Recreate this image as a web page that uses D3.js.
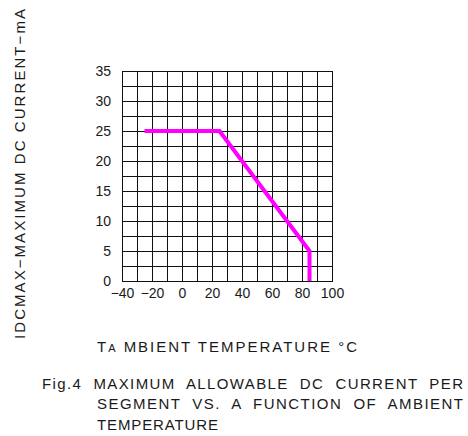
<!DOCTYPE html>
<html>
<head>
<meta charset="utf-8">
<script src="https://cdn.jsdelivr.net/npm/d3@7"></script>
<style>
body{margin:0;background:#fff;}
svg text{font-family:"Liberation Sans",Arial,sans-serif;fill:#1a1a1a;}
</style>
</head>
<body>
<div id="chart"></div>
<script>
// data
var tempC=[-25,25,85,85];
var currentMA=[25,25,5,0];
var xTickVals=[-40,-20,0,20,40,60,80,100];
var yTickVals=[0,5,10,15,20,25,30,35];
var xGrid=[-40,-30,-20,-10,0,10,20,30,40,50,60,70,80,90,100];
var yGrid=[0,2.5,5,7.5,10,12.5,15,17.5,20,22.5,25,27.5,30,32.5,35];

var W=468,H=436;
var plot={left:122,top:71,right:332,bottom:281};

var svg=d3.select("#chart").append("svg")
	.attr("width",W).attr("height",H);

var x=d3.scaleLinear().domain([-40,100]).range([plot.left,plot.right]);
var y=d3.scaleLinear().domain([0,35]).range([plot.bottom,plot.top]);

//网格
var grid=svg.append("g").attr("stroke","#111").attr("stroke-width",1).attr("shape-rendering","crispEdges");
grid.selectAll("line.v").data(xGrid).enter().append("line")
	.attr("class","v")
	.attr("x1",function(d){return Math.round(x(d))+0.5;})
	.attr("x2",function(d){return Math.round(x(d))+0.5;})
	.attr("y1",plot.top).attr("y2",plot.bottom);
grid.selectAll("line.h").data(yGrid).enter().append("line")
	.attr("class","h")
	.attr("y1",function(d){return Math.round(y(d))+0.5;})
	.attr("y2",function(d){return Math.round(y(d))+0.5;})
	.attr("x1",plot.left).attr("x2",plot.right+1);

//坐标轴刻度
var xAxis=d3.axisBottom(x).tickValues(xTickVals).tickSize(0).tickPadding(0)
	.tickFormat(function(d){return d<0?"\u2212"+Math.abs(d):d;});
var gx=svg.append("g").attr("transform","translate(0,"+(plot.bottom+7)+")").call(xAxis);
gx.select(".domain").remove();
gx.selectAll("text").attr("font-size",14).attr("fill","#1a1a1a").style("font-family","Liberation Sans,Arial,sans-serif");

var yAxis=d3.axisLeft(y).tickValues(yTickVals).tickSize(0).tickPadding(0);
var gy=svg.append("g").attr("transform","translate("+(plot.left-11)+",0)").call(yAxis);
gy.select(".domain").remove();
gy.selectAll("text").attr("font-size",14).attr("fill","#1a1a1a").style("font-family","Liberation Sans,Arial,sans-serif");

//曲线
var line=d3.line().x(function(d){return x(d[0]);}).y(function(d){return y(d[1]);});
svg.append("path")
	.datum(d3.zip(tempC,currentMA))
	.attr("d",line)
	.attr("fill","none")
	.attr("stroke","#ff00ff")
	.attr("stroke-width",4)
	.attr("stroke-linejoin","miter");

//y轴标题
svg.append("text")
	.attr("transform","translate(25,174) rotate(-90)")
	.attr("text-anchor","middle")
	.attr("font-size",15)
	.attr("textLength",330).attr("lengthAdjust","spacing")
	.text("IDCMAX\u2212MAXIMUM  DC  CURRENT\u2212mA");

//x轴标题
var xt=svg.append("text")
	.attr("x",97).attr("y",352)
	.attr("font-size",15)
	.attr("textLength",260).attr("lengthAdjust","spacing");
xt.append("tspan").text("T");
xt.append("tspan").attr("font-size",11).text("A");
xt.append("tspan").text("  MBIENT  TEMPERATURE  \u00b0C");

//图注
var caption=[
	{x:42,y:389,len:421,t:"Fig.4  MAXIMUM  ALLOWABLE  DC  CURRENT  PER"},
	{x:97,y:409,len:366,t:"SEGMENT  VS.  A  FUNCTION  OF  AMBIENT"},
	{x:97,y:430,len:121,t:"TEMPERATURE"}
];
svg.selectAll("text.cap").data(caption).enter().append("text")
	.attr("class","cap")
	.attr("x",function(d){return d.x;})
	.attr("y",function(d){return d.y;})
	.attr("font-size",15)
	.attr("textLength",function(d){return d.len;})
	.attr("lengthAdjust","spacing")
	.style("white-space","pre")
	.text(function(d){return d.t;});
</script>
</body>
</html>
